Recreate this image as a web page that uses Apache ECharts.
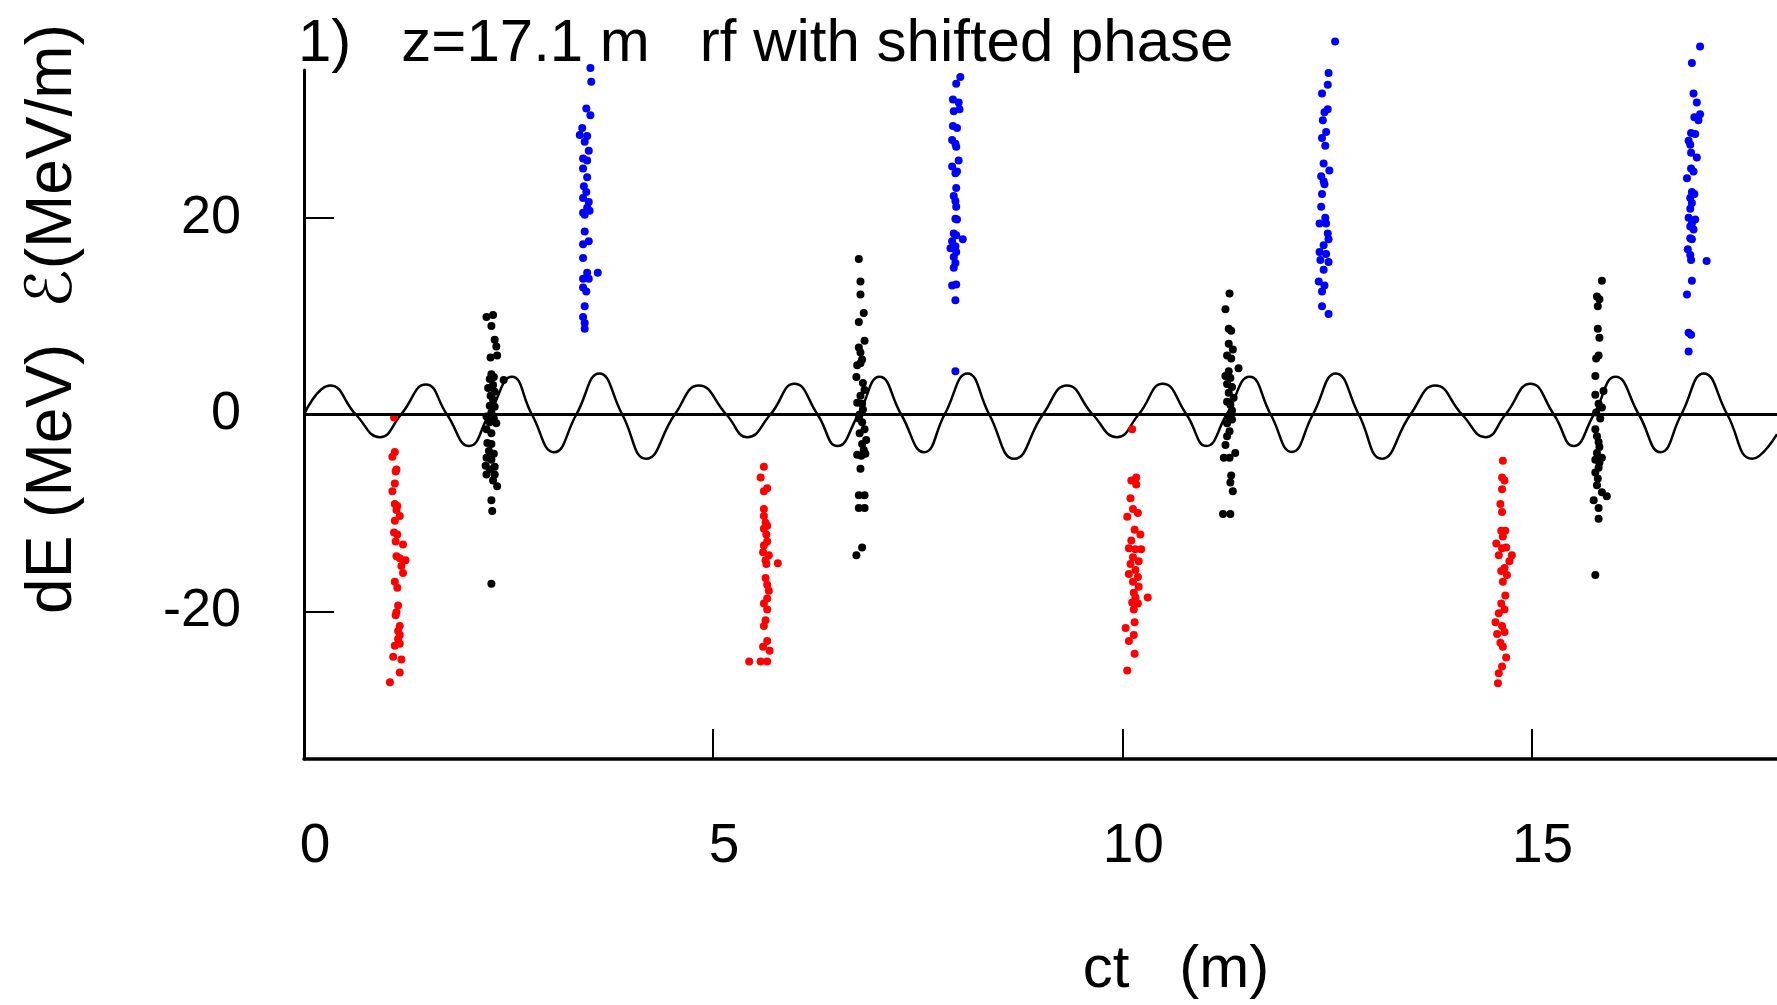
<!DOCTYPE html>
<html lang="en">
<head>
    <meta charset="UTF-8" />
    <title>rf with shifted phase</title>
    <script src="https://cdn.jsdelivr.net/npm/echarts@6/dist/echarts.min.js"></script>
    <style>
        html, body { margin: 0; padding: 0; background: #fff; }
        #main { width: 1777px; height: 1005px; }
    </style>
</head>
<body>
    <div id="main"></div>
    <script>
        // rf field curve at its zero crossings, peaks and troughs
        const waveX = [0, 0.32, 0.633, 0.928, 1.186, 1.489, 1.747, 2.018, 2.262, 2.542, 2.785, 3.056, 3.328, 3.609, 3.889, 4.18,
            4.531, 4.825, 5.161, 5.419, 5.699, 5.994, 6.275, 6.518, 6.775, 7.033, 7.298, 7.579, 7.828, 8.108, 8.374, 8.679,
            9.029, 9.324, 9.638, 9.933, 10.199, 10.494, 10.784, 11.027, 11.275, 11.556, 11.813, 12.071, 12.328, 12.609, 12.889, 13.17,
            13.521, 13.825, 14.152, 14.438, 14.682, 14.988, 15.273, 15.517, 15.762, 16.027, 16.312, 16.577, 16.83, 17.106, 17.392, 17.698,
            18.0];
        const waveY = [0, 2.95, 0, -2.3, 0, 3.05, 0, -3.2, 0, 3.83, 0, -3.83, 0, 4.17, 0, -4.5,
            0, 2.95, 0, -2.3, 0, 3.12, 0, -3.2, 0, 3.83, 0, -3.83, 0, 4.17, 0, -4.5,
            0, 2.95, 0, -2.3, 0, 3.12, 0, -3.2, 0, 3.83, 0, -3.8, 0, 4.17, 0, -4.5,
            0, 2.95, 0, -2.3, 0, 3.12, 0, -3.2, 0, 3.83, 0, -3.83, 0, 4.17, 0, -4.5,
            -2.0];

        // particles, [ct, dE]
        const redPts = [
            [1.10, -0.3], [1.11, -3.8], [1.08, -4.3], [1.13, -5.6], [1.12, -5.8], [1.11, -7.0], [1.08, -7.8], [1.11, -9.1], [1.14, -9.3],
            [1.13, -9.7], [1.17, -10.3], [1.11, -10.8], [1.10, -12.0], [1.14, -12.2], [1.12, -12.9], [1.21, -13.2], [1.13, -14.4], [1.17, -14.6],
            [1.24, -14.8], [1.19, -15.4], [1.21, -16.1], [1.11, -17.0], [1.14, -17.6], [1.15, -19.4], [1.13, -20.1], [1.12, -20.4], [1.17, -21.5],
            [1.15, -22.0], [1.17, -22.4], [1.15, -22.8], [1.17, -23.3], [1.11, -23.5], [1.09, -24.6], [1.19, -24.9], [1.17, -26.2], [1.05, -27.2],
            [5.62, -5.3], [5.58, -6.4], [5.66, -7.5], [5.62, -7.8], [5.62, -9.6], [5.62, -10.3], [5.64, -11.0], [5.66, -11.3], [5.62, -11.6],
            [5.65, -12.2], [5.66, -12.9], [5.62, -13.3], [5.61, -14.0], [5.68, -14.3], [5.64, -14.8], [5.65, -15.2], [5.79, -15.1], [5.64, -16.6],
            [5.66, -17.3], [5.68, -17.9], [5.66, -18.7], [5.62, -19.2], [5.66, -19.8], [5.64, -20.9], [5.62, -21.5], [5.66, -23.0], [5.61, -23.6],
            [5.69, -24.0], [5.44, -25.1], [5.58, -25.1], [5.66, -25.1],
            [10.12, -1.5], [10.11, -6.7], [10.17, -6.4], [10.17, -7.1], [10.10, -8.5], [10.13, -9.6], [10.19, -10.0], [10.06, -10.4], [10.15, -11.7],
            [10.22, -12.2], [10.11, -12.8], [10.08, -13.6], [10.16, -13.7], [10.23, -13.7], [10.13, -14.5], [10.20, -14.9], [10.10, -15.2], [10.16, -15.8],
            [10.08, -16.2], [10.19, -16.5], [10.13, -17.0], [10.20, -17.5], [10.14, -18.1], [10.16, -18.6], [10.31, -18.6], [10.12, -19.1], [10.19, -19.2],
            [10.14, -19.8], [10.15, -21.1], [10.04, -21.7], [10.14, -22.4], [10.08, -23.0], [10.15, -24.3], [10.06, -26.0],
            [14.65, -4.7], [14.64, -6.4], [14.67, -6.7], [14.64, -7.6], [14.62, -9.1], [14.64, -9.9], [14.63, -11.8], [14.68, -11.8], [14.65, -12.4],
            [14.57, -13.1], [14.64, -13.6], [14.69, -13.5], [14.76, -14.3], [14.60, -14.3], [14.73, -14.9], [14.67, -15.6], [14.63, -15.9], [14.70, -16.3],
            [14.65, -17.0], [14.68, -18.4], [14.63, -19.2], [14.67, -19.8], [14.60, -20.2], [14.56, -21.1], [14.64, -21.5], [14.58, -22.3], [14.67, -22.1],
            [14.62, -23.2], [14.65, -23.6], [14.69, -24.7], [14.64, -25.6], [14.60, -26.3], [14.59, -27.3]
        ];
        const blackPts = [
            [2.23, 9.9], [2.31, 10.1], [2.29, 9.0], [2.33, 7.6], [2.35, 6.9], [2.28, 5.8], [2.36, 6.0], [2.29, 4.1], [2.32, 3.8], [2.27, 3.6],
            [2.44, 3.5], [2.31, 3.0], [2.25, 2.7], [2.33, 2.3], [2.28, 1.9], [2.31, 1.5], [2.27, 0.9], [2.33, 0.8], [2.29, 0.2], [2.23, -0.2],
            [2.32, -0.4], [2.27, -0.8], [2.35, -0.9], [2.23, -1.5], [2.29, -1.9], [2.24, -2.9], [2.29, -3.0], [2.26, -3.7], [2.32, -4.0], [2.23, -4.4],
            [2.29, -4.6], [2.22, -5.2], [2.33, -5.3], [2.27, -5.6], [2.23, -6.1], [2.33, -6.1], [2.31, -6.7], [2.36, -7.3], [2.29, -8.7], [2.30, -9.8],
            [2.29, -17.2],
            [6.78, 15.8], [6.80, 13.5], [6.80, 12.2], [6.84, 10.3], [6.78, 9.4], [6.85, 7.5], [6.78, 6.8], [6.80, 6.3], [6.82, 5.6], [6.76, 5.0],
            [6.80, 5.2], [6.75, 3.8], [6.83, 3.2], [6.85, 2.5], [6.80, 1.9], [6.76, 1.2], [6.82, 1.1], [6.83, 0.5], [6.79, 0.0], [6.78, -0.4],
            [6.82, -0.8], [6.85, -1.5], [6.79, -1.9], [6.87, -2.6], [6.82, -3.0], [6.84, -3.6], [6.76, -4.1], [6.81, -4.2], [6.86, -4.0], [6.80, -5.5],
            [6.78, -8.2], [6.85, -8.2], [6.78, -9.5], [6.85, -9.5], [6.75, -14.3], [6.82, -13.5],
            [11.31, 12.3], [11.26, 10.7], [11.30, 8.7], [11.33, 8.5], [11.30, 7.2], [11.35, 6.6], [11.28, 6.0], [11.33, 5.7], [11.42, 4.7], [11.30, 4.4],
            [11.26, 3.9], [11.32, 3.7], [11.28, 3.1], [11.34, 2.8], [11.30, 2.2], [11.36, 1.7], [11.28, 1.3], [11.32, 1.0], [11.34, 0.4], [11.30, -0.2],
            [11.34, -0.5], [11.28, -0.9], [11.31, -1.7], [11.28, -2.2], [11.26, -3.1], [11.38, -3.9], [11.24, -4.4], [11.31, -4.4], [11.33, -6.2], [11.32, -6.9],
            [11.35, -7.8], [11.23, -10.1], [11.32, -10.1],
            [15.86, 13.6], [15.80, 12.0], [15.83, 11.7], [15.81, 11.0], [15.81, 8.7], [15.83, 7.8], [15.82, 6.0], [15.79, 5.7], [15.78, 3.9], [15.88, 2.4],
            [15.78, 2.0], [15.82, 1.1], [15.86, 0.7], [15.79, 0.2], [15.84, -0.4], [15.78, -1.5], [15.80, -2.2], [15.82, -2.8], [15.83, -3.3], [15.80, -3.9],
            [15.86, -4.4], [15.78, -4.6], [15.83, -4.9], [15.82, -5.4], [15.78, -5.9], [15.81, -6.5], [15.80, -7.2], [15.86, -7.9], [15.92, -8.3], [15.76, -8.7],
            [15.82, -9.5], [15.82, -10.6], [15.78, -16.3]
        ];
        const bluePts = [
            [3.50, 35.2], [3.51, 33.8], [3.45, 31.1], [3.50, 30.4], [3.40, 29.1], [3.37, 28.4], [3.46, 28.3], [3.43, 27.7], [3.48, 26.8], [3.41, 26.0],
            [3.46, 25.8], [3.41, 25.0], [3.46, 24.1], [3.42, 23.2], [3.45, 22.6], [3.41, 22.0], [3.48, 21.6], [3.46, 21.0], [3.41, 20.5], [3.49, 20.7],
            [3.43, 20.3], [3.43, 18.6], [3.48, 17.6], [3.41, 17.3], [3.41, 15.9], [3.46, 14.4], [3.59, 14.4], [3.41, 13.8], [3.48, 13.8], [3.41, 12.9],
            [3.45, 12.5], [3.43, 11.0], [3.41, 9.9], [3.43, 9.3], [3.43, 8.7],
            [8.02, 34.3], [7.97, 33.6], [7.93, 32.0], [8.00, 31.7], [8.01, 31.0], [7.94, 30.8], [7.93, 29.3], [7.98, 29.1], [7.92, 27.9], [7.96, 27.5],
            [7.97, 27.2], [8.00, 25.8], [7.92, 25.2], [7.98, 24.7], [7.96, 24.5], [7.97, 23.0], [7.94, 22.2], [7.96, 21.7], [7.97, 21.1], [7.96, 19.9],
            [7.98, 19.8], [7.94, 18.4], [7.97, 18.2], [8.05, 17.8], [7.92, 17.6], [7.96, 17.1], [7.90, 16.9], [7.97, 16.5], [7.94, 16.0], [7.96, 15.4],
            [7.94, 14.9], [7.92, 13.1], [7.97, 13.2], [7.96, 11.6], [7.96, 4.4],
            [12.60, 37.9], [12.52, 34.7], [12.51, 33.5], [12.44, 32.6], [12.51, 31.0], [12.47, 30.7], [12.45, 29.9], [12.49, 28.7], [12.44, 28.1], [12.48, 27.3],
            [12.46, 25.5], [12.53, 24.8], [12.43, 24.2], [12.46, 23.7], [12.47, 23.4], [12.44, 22.4], [12.43, 21.1], [12.48, 20.0], [12.49, 19.4], [12.41, 19.4],
            [12.51, 18.4], [12.52, 17.8], [12.46, 17.2], [12.41, 16.5], [12.49, 16.3], [12.42, 15.7], [12.52, 15.5], [12.46, 14.7], [12.40, 13.5], [12.47, 13.1],
            [12.44, 12.5], [12.44, 11.0], [12.52, 10.2],
            [17.06, 37.4], [16.96, 35.7], [16.98, 32.6], [17.02, 31.7], [17.06, 30.5], [16.99, 30.2], [17.04, 29.9], [16.95, 28.6], [17.00, 28.5], [16.92, 27.8],
            [16.94, 27.4], [16.95, 26.6], [17.02, 26.1], [16.95, 25.0], [16.98, 24.7], [16.90, 24.0], [16.96, 22.6], [16.99, 22.4], [16.94, 22.0], [16.96, 21.5],
            [16.94, 20.9], [16.92, 20.0], [17.00, 19.8], [16.96, 19.4], [16.94, 19.1], [16.98, 18.8], [16.94, 17.9], [16.96, 17.8], [16.91, 16.8], [16.94, 16.2],
            [16.95, 15.7], [17.14, 15.6], [16.96, 13.6], [16.90, 12.2], [16.92, 8.3], [16.95, 8.1], [16.92, 6.4]
        ];

        const xTicks = [0, 5, 10, 15];
        const yTicks = [-20, 0, 20];

        const FONT = '"Liberation Sans", "DejaVu Sans", Arial, sans-serif';

        var chartDom = document.getElementById('main');
        var myChart = echarts.init(chartDom, null, { renderer: 'canvas' });

        function particles(data, color) {
            return {
                type: 'scatter',
                data: data,
                symbolSize: 8,
                itemStyle: { color: color, opacity: 1 },
                clip: false,
                z: 3
            };
        }

        var option = {
            animation: false,
            backgroundColor: '#fff',
            grid: {
                left: 304,
                right: 0,
                top: 70,
                bottom: 246,
                outerBoundsMode: 'none'
            },
            xAxis: {
                type: 'value',
                min: 0,
                max: 18,
                axisLine: { onZero: false, lineStyle: { color: '#000', width: 3.5 } },
                axisTick: { inside: true, length: 30, customValues: xTicks, lineStyle: { color: '#000', width: 2 } },
                axisLabel: {
                    customValues: xTicks,
                    color: '#000',
                    fontSize: 55,
                    fontFamily: FONT,
                    margin: 60,
                    padding: [0, 0, 0, 22]
                },
                splitLine: { show: false }
            },
            yAxis: {
                type: 'value',
                min: -35,
                max: 35,
                axisLine: { onZero: false, lineStyle: { color: '#000', width: 3 } },
                axisTick: { inside: true, length: 30, customValues: yTicks, lineStyle: { color: '#000', width: 2 } },
                axisLabel: {
                    customValues: yTicks,
                    color: '#000',
                    fontSize: 54,
                    fontFamily: FONT,
                    margin: 63
                },
                splitLine: { show: false }
            },
            series: [
                {
                    type: 'line',
                    data: waveX.map((x, i) => [x, waveY[i]]),
                    smooth: 0.5,
                    showSymbol: false,
                    lineStyle: { color: '#000', width: 2.5 },
                    z: 2,
                    markLine: {
                        silent: true,
                        symbol: 'none',
                        label: { show: false },
                        lineStyle: { color: '#000', width: 3, type: 'solid' },
                        data: [{ yAxis: 0 }]
                    }
                },
                particles(redPts, '#ff0000'),
                particles(blackPts, '#000000'),
                particles(bluePts, '#0000ff')
            ],
            graphic: {
                elements: [
                    {
                        type: 'text',
                        x: 298,
                        y: 44,
                        style: {
                            text: '1)   z=17.1 m   rf with shifted phase',
                            font: '60px ' + FONT,
                            fill: '#000',
                            align: 'left',
                            verticalAlign: 'middle'
                        }
                    },
                    {
                        type: 'text',
                        x: 1176,
                        y: 970,
                        style: {
                            text: 'ct   (m)',
                            font: '60px ' + FONT,
                            fill: '#000',
                            align: 'center',
                            verticalAlign: 'middle'
                        }
                    },
                    {
                        type: 'text',
                        x: 53,
                        y: 319,
                        rotation: Math.PI / 2,
                        style: {
                            text: 'dE (MeV)  ℰ(MeV/m)',
                            font: '64px ' + FONT,
                            fill: '#000',
                            align: 'center',
                            verticalAlign: 'middle'
                        }
                    }
                ]
            }
        };

        myChart.setOption(option);
    </script>
</body>
</html>
